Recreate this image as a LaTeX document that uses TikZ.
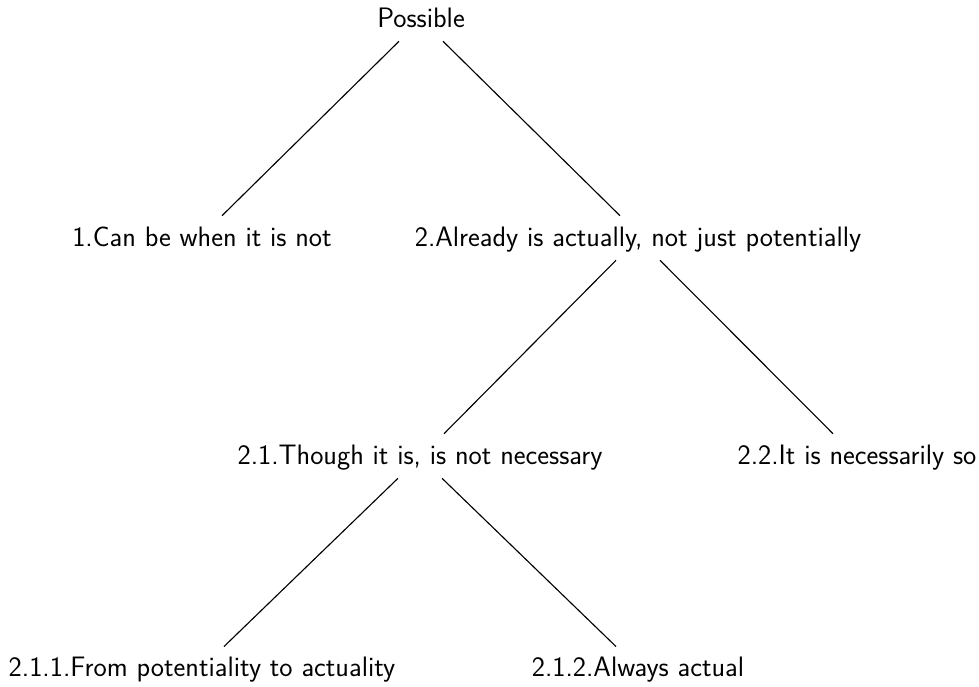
\documentclass[tikz,border=0pt]{standalone}
\usepackage{tikz}

\begin{document}
\begin{tikzpicture}[lbl/.style={font=\sffamily\fontsize{20}{24}\selectfont, inner sep=0, minimum height=1.1cm, text height=3.1ex, text depth=.4ex}]
\useasboundingbox (0,0) rectangle (24.475,-17.175);
\node[lbl] (pos) at (10.525,-0.475) {Possible};
\node[lbl] (one) at (5.05,-5.95) {1.Can be when it is not};
\node[lbl] (two) at (15.95,-5.95) {2.Already is actually, not just potentially};
\node[lbl] (twoone) at (10.5,-11.4) {2.1.Though it is, is not necessary};
\node[lbl] (twotwo) at (21.425,-11.4) {2.2.It is necessarily so};
\node[lbl] (twooneone) at (5.05,-16.72) {2.1.1.From potentiality to actuality};
\node[lbl] (twoonetwo) at (15.95,-16.72) {2.1.2.Always actual};
\draw[line width=0.8] ([xshift=-0.55cm]pos.south) -- ([xshift=0.5cm]one.north);
\draw[line width=0.8] ([xshift=0.55cm]pos.south) -- ([xshift=-0.45cm]two.north);
\draw[line width=0.8] ([xshift=-0.55cm]two.south) -- ([xshift=0.6cm]twoone.north);
\draw[line width=0.8] ([xshift=0.55cm]two.south) -- ([xshift=-0.6cm]twotwo.north);
\draw[line width=0.8] ([xshift=-0.55cm]twoone.south) -- ([xshift=0.55cm]twooneone.north);
\draw[line width=0.8] ([xshift=0.55cm]twoone.south) -- ([xshift=-0.55cm]twoonetwo.north);
\end{tikzpicture}
\end{document}
